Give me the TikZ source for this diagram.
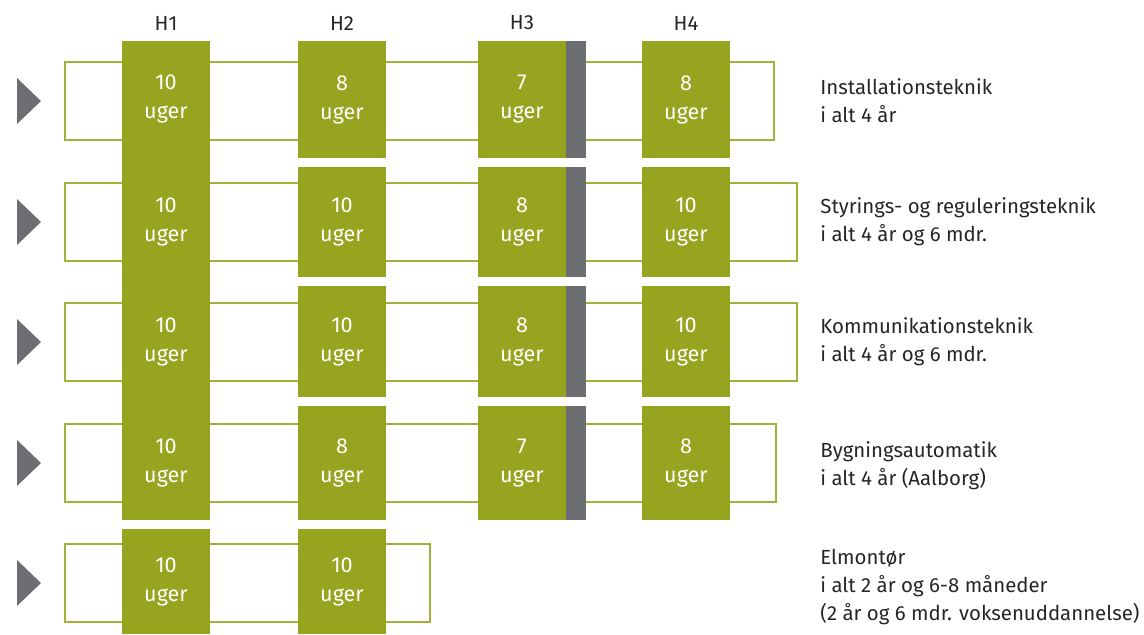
\documentclass[tikz,border=0pt]{standalone}
\usepackage{fontspec}
\setmainfont{Fira Sans}
\usetikzlibrary{positioning}
\definecolor{blockgreen}{RGB}{150,164,32}
\definecolor{trackgreen}{RGB}{162,177,55}
\definecolor{sepgray}{RGB}{109,110,113}
\definecolor{labeltext}{RGB}{38,38,38}
\tikzset{
  track/.style={rectangle, draw=trackgreen, line width=1pt, fill=white, inner sep=0pt,
                minimum height=39pt, anchor=west},
  wk/.style={rectangle, fill=blockgreen, text=white, inner sep=0pt, align=center,
             minimum width=44pt, font=\fontsize{10.8}{14.5}\selectfont},
  wktxt/.style={wk, fill=none},
  sepbar/.style={rectangle, fill=sepgray, inner sep=0pt, minimum width=10pt},
  hdr/.style={font=\fontsize{10.2}{12}\selectfont, text=labeltext, inner sep=0pt},
  prog/.style={font=\fontsize{10.2}{14}\selectfont, text=labeltext, align=left,
               anchor=west, inner sep=0pt},
}

\begin{document}
\begin{tikzpicture}[x=0.5pt,y=-0.5pt]
\useasboundingbox (0,0) rectangle (1144,634);

% ===================== tracks (one per programme) =====================
\foreach \r/\cy/\w in {1/101/354.5, 2/222/366, 3/342/366, 4/463/355.5, 5/583/182.5}{
  \node[track, minimum width=\w pt] (tr\r) at (64,\cy) {};
  \fill[sepgray] (17,{\cy-23}) -- (41,\cy) -- (17,{\cy+23}) -- cycle;
}

% ===================== H1: one long stay for rows 1--4 =====================
\node[wk, minimum height=239.5pt] (h1col) at (166,280.5) {};
\foreach \r/\cy in {1/99, 2/222, 3/342, 4/463}
  \node[wktxt] (h1-\r) at (166,\cy) {10\\uger};

% ===================== H2--H4 blocks =====================
\foreach \r/\top/\bot/\a/\b/\c in {1/41/158/8/7/8, 2/167/277/10/8/10,
                                   3/286/397/10/8/10, 4/406/520/8/7/8}{
  \node[wk, minimum height={(\bot-\top)*0.5pt}] (h2-\r) at (342,{(\top+\bot)/2}) {\a\\uger};
  \node[wk, minimum height={(\bot-\top)*0.5pt}] (h3-\r) at (522,{(\top+\bot)/2}) {\b\\uger};
  \node[sepbar, minimum height={(\bot-\top)*0.5pt}] (s3-\r) at (576,{(\top+\bot)/2}) {};
  \node[wk, minimum height={(\bot-\top)*0.5pt}] (h4-\r) at (686,{(\top+\bot)/2}) {\c\\uger};
}

% Elmontør: only H1 and H2
\node[wk, minimum height=52.5pt] (h1-5) at (166,581.5) {10\\uger};
\node[wk, minimum height=52.5pt] (h2-5) at (342,581.5) {10\\uger};

% ===================== column headers =====================
\node[hdr] (hd1) at (166,23) {H1};
\node[hdr] (hd2) at (342,23) {H2};
\node[hdr] (hd3) at (522,23) {H3};
\node[hdr] (hd4) at (686,23) {H4};

% ===================== programme names =====================
\node[prog] (p1) at (820,101) {Installationsteknik\\i alt 4 år};
\node[prog] (p2) at (820,222) {Styrings- og reguleringsteknik\\i alt 4 år og 6 mdr.};
\node[prog] (p3) at (820,342) {Kommunikationsteknik\\i alt 4 år og 6 mdr.};
\node[prog] (p4) at (820,466) {Bygningsautomatik\\i alt 4 år (Aalborg)};
\node[prog] (p5) at (820,587) {Elmontør\\i alt 2 år og 6-8 måneder\\(2 år og 6 mdr. voksenuddannelse)};

\end{tikzpicture}
\end{document}
